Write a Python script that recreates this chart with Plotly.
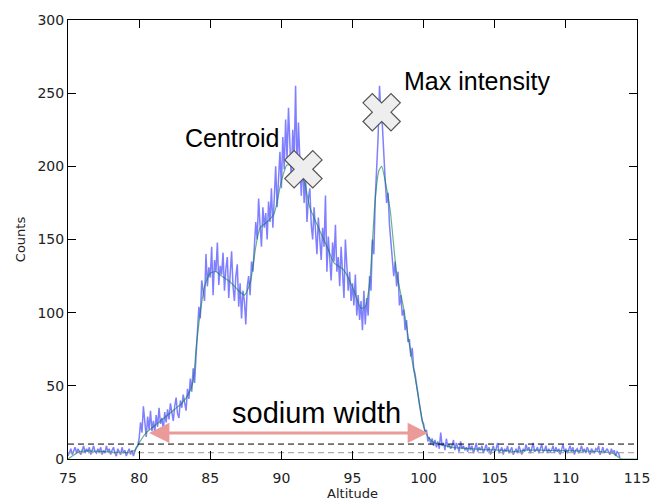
import numpy as np
import plotly.graph_objects as go

alt_start = 75.0
alt_step = 0.1
counts = [
    2, 4, 7, 3, 6, 8, 4, 7, 5, 3,            # 75
    6, 9, 4, 7, 5, 8, 3, 6, 9, 5,            # 76
    4, 7, 5, 8, 3, 6, 4, 9, 5, 7,            # 77
    3, 6, 8, 4, 2, 7, 5, 3, 8, 4,            # 78
    6, 2, 5, 7, 3, 6, 2, 5, 8, 9,            # 79
    14, 25, 18, 36, 22, 15, 29, 20, 33, 19,  # 80
    26, 18, 30, 22, 35, 24, 28, 20, 32, 25,  # 81
    34, 27, 38, 30, 26, 36, 42, 31, 28, 40,  # 82
    35, 44, 38, 33, 48, 41, 55, 46, 62, 52,  # 83
    70, 88, 104, 96, 122, 115, 108, 140, 118, 131,   # 84
    124, 145, 112, 136, 128, 148, 119, 132, 126, 141,  # 85
    115, 130, 138, 110, 127, 142, 118, 108, 125, 133,  # 86
    104, 120, 96, 115, 108, 92, 118, 125, 112, 135,    # 87
    128, 148, 162, 150, 178, 160, 145, 172, 158, 168,  # 88
    150, 176, 162, 185, 158, 178, 200, 172, 190, 210,  # 89
    185, 220, 198, 232, 205, 240, 215, 190, 225, 205,  # 90
    255, 195, 230, 210, 180, 205, 175, 195, 162, 178,  # 91
    185, 160, 150, 172, 158, 140, 165, 150, 136, 158,  # 92
    145, 180, 128, 152, 140, 122, 148, 135, 160, 128,  # 93
    138, 118, 145, 125, 110, 150, 130, 115, 128, 108,  # 94
    120, 105, 126, 98, 112, 95, 108, 88, 115, 92,      # 95
    110, 98, 125, 115, 150, 140, 178, 195, 220, 255,   # 96
    235, 228, 205, 190, 175, 182, 160, 150, 138, 125,  # 97
    135, 118, 128, 105, 112, 98, 102, 88, 95, 80,      # 98
    82, 70, 76, 62, 58, 50, 46, 38, 32, 26,            # 99
    24, 18, 20, 12, 15, 10, 14, 9, 13, 8,              # 100
    12, 7, 18, 9, 11, 6, 14, 8, 10, 7,                 # 101
    9, 13, 6, 11, 8, 5, 12, 7, 9, 6,                   # 102
    8, 5, 10, 6, 9, 4, 7, 11, 5, 8,                    # 103
    6, 9, 4, 7, 10, 5, 8, 3, 6, 9,                     # 104
    5, 7, 11, 4, 6, 8, 3, 7, 5, 9,                     # 105
    4, 6, 8, 3, 5, 7, 4, 9, 6, 3,                      # 106
    7, 5, 10, 6, 8, 4, 7, 11, 5, 6,                    # 107
    8, 4, 7, 10, 5, 6, 9, 4, 7, 5,                     # 108
    6, 9, 4, 8, 5, 7, 3, 6, 10, 5,                     # 109
    7, 4, 6, 9, 5, 8, 3, 6, 7, 4,                      # 110
    6, 9, 5, 7, 4, 8, 6, 3, 7, 5,                      # 111
    4, 7, 6, 9, 3, 5, 8, 4, 6, 7,                      # 112
    5, 3, 7, 4, 6, 2, 5, 4, 1,                         # 113
]
altitude = [round(alt_start + alt_step * i, 1) for i in range(len(counts))]

# Smoothed profile (green line)
smooth_alt = [75.0, 75.3, 75.8, 76.5, 77.5, 78.5, 79.3, 79.7, 80.0, 80.5, 81.0, 81.5,
              82.0, 82.5, 83.0, 83.5, 83.8, 84.0, 84.3, 84.6, 85.0, 85.4, 85.8, 86.4,
              87.0, 87.4, 87.8, 88.2, 88.5, 89.0, 89.5, 90.0, 90.4, 90.8, 91.2, 91.6,
              92.0, 92.7, 93.3, 93.7, 94.3, 94.7, 95.1, 95.6, 95.9, 96.2, 96.4, 96.6,
              96.85, 97.05, 97.3, 97.65, 98.1, 98.6, 99.0, 99.5, 100.0, 100.4, 100.8,
              101.4, 102.0, 103.0, 104.0, 105.0, 106.0, 106.5, 107.2, 108.2, 109.0,
              110.1, 111.0, 112.4, 113.3, 113.8, 114.0, 115.0]
smooth_counts = [0, 2, 5, 5.5, 5, 4.5, 4.5, 6, 11, 18, 22, 26,
                 30, 34, 38, 45, 53, 75, 100, 118, 127, 128, 125, 121,
                 115, 112, 120, 145, 158, 162, 168, 190, 201, 200, 196, 190,
                 172, 156, 143, 134, 130, 124, 115, 103, 104, 120, 148, 178,
                 197, 200, 190, 170, 127, 103, 78, 50, 22, 14, 11,
                 9.5, 8, 7.3, 6.5, 6.2, 5.5, 5, 6, 6, 5.8,
                 5.7, 5.5, 5, 4, 0.5, 0, 0]

# Threshold levels
threshold_upper = 10.2
threshold_lower = 4.3

# Marked points
centroid = (91.55, 198)
max_intensity = (97.05, 237)
width_bounds = (80.6, 100.3)
width_level = 17.8

fig = go.Figure()
fig.add_trace(go.Scatter(x=altitude, y=counts, mode="lines",
                         line=dict(color="rgba(0,0,255,0.5)", width=1.5),
                         showlegend=False, hoverinfo="skip"))
fig.add_trace(go.Scatter(x=smooth_alt, y=smooth_counts, mode="lines",
                         line=dict(color="rgba(0,128,60,0.6)", width=1.2, shape="spline",
                                   smoothing=0.6),
                         showlegend=False, hoverinfo="skip"))
fig.add_trace(go.Scatter(x=[75, 115], y=[threshold_upper, threshold_upper], mode="lines",
                         line=dict(color="black", width=1, dash="6px,4px"),
                         showlegend=False, hoverinfo="skip"))
fig.add_trace(go.Scatter(x=[75, 115], y=[threshold_lower, threshold_lower], mode="lines",
                         line=dict(color="#999999", width=1, dash="6px,4px"),
                         showlegend=False, hoverinfo="skip"))
fig.add_trace(go.Scatter(x=[centroid[0], max_intensity[0]], y=[centroid[1], max_intensity[1]],
                         mode="markers",
                         marker=dict(symbol="x", size=33, color="#eeeeee",
                                     line=dict(color="#555555", width=1.2)),
                         showlegend=False, hoverinfo="skip"))

label_font = dict(family="Liberation Sans, Arial, sans-serif", size=25, color="black")
fig.add_annotation(x=86.55, y=219.5, xref="x", yref="y", text="Centroid",
                   showarrow=False, font=label_font)
fig.add_annotation(x=103.75, y=258.5, xref="x", yref="y", text="Max intensity",
                   showarrow=False, font=label_font)
fig.add_annotation(x=92.45, y=31.5, xref="x", yref="y", text="sodium width",
                   showarrow=False, font=dict(family="Liberation Sans, Arial, sans-serif",
                                              size=29, color="black"))
fig.add_annotation(x=width_bounds[1], y=width_level, ax=width_bounds[0], ay=width_level,
                   xref="x", yref="y", axref="x", ayref="y", text="",
                   showarrow=True, arrowhead=2, startarrowhead=2, arrowside="end+start",
                   arrowsize=1.35, startarrowsize=1.35, arrowwidth=3, arrowcolor="#eb9a9a")

tick_font = dict(family="DejaVu Sans, sans-serif", size=14, color="#222222")
fig.update_xaxes(range=[75, 115], tickvals=[75, 80, 85, 90, 95, 100, 105, 110, 115],
                 ticks="inside", ticklen=8, tickcolor="black", showline=True,
                 linecolor="black", linewidth=1, mirror="allticks", showgrid=False,
                 zeroline=False, tickfont=tick_font, ticklabelstandoff=6,
                 automargin=False,
                 title=dict(text="Altitude", font=dict(family="DejaVu Sans, sans-serif",
                                                       size=13, color="#222222"),
                            standoff=4))
fig.update_yaxes(range=[0, 300], tickvals=[0, 50, 100, 150, 200, 250, 300],
                 ticks="inside", ticklen=8, tickcolor="black", showline=True,
                 linecolor="black", linewidth=1, mirror="allticks", showgrid=False,
                 zeroline=False, tickfont=tick_font, automargin=False,
                 title=dict(text="Counts", font=dict(family="DejaVu Sans, sans-serif",
                                                     size=13, color="#222222"),
                            standoff=8))
fig.update_layout(width=652, height=501, margin=dict(l=68, r=15, t=20, b=42),
                  paper_bgcolor="white", plot_bgcolor="white")

fig.write_html("out.html")
